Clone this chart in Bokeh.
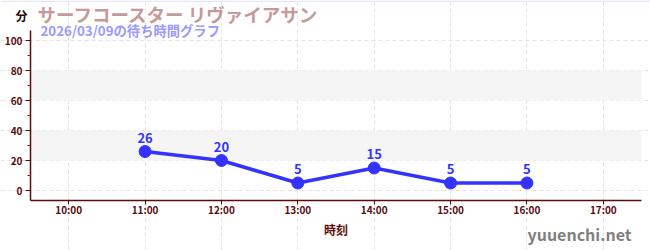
from bokeh.plotting import figure
from bokeh.models import (ColumnDataSource, Label, BoxAnnotation, FixedTicker,
                          LabelSet, Range1d)
from bokeh.core.properties import value
from bokeh.embed import file_html
from bokeh.resources import INLINE

times = ["11:00", "12:00", "13:00", "14:00", "15:00", "16:00"]
waits = [26, 20, 5, 15, 5, 5]
x_ticks = ["10:00", "11:00", "12:00", "13:00", "14:00", "15:00", "16:00", "17:00"]
y_ticks = [0, 20, 40, 60, 80, 100]
bands = [(20, 40), (60, 80)]
title_text = "サーフコースター リヴァイアサン"
subtitle_text = "2026/03/09の待ち時間グラフ"
y_unit = "分"
x_label = "時刻"
watermark = "yuuenchi.net"


def to_hours(s):
    h, m = s.split(":")
    return int(h) + int(m) / 60.0


xs = [to_hours(t) for t in times]
xt = [to_hours(t) for t in x_ticks]

JP = "Noto Sans CJK JP"
AXC = "#5a0c0c"
BLUE = "#3333ff"
W, H = 650, 250

# plotting area inside the canvas (pixels) and its data extent
PL, PR, PT, PB = 30, 641, 30, 200
X0, X1 = 9.5, 17.5
Y0, Y1 = -20 / 3, 320 / 3
xs_per_px = (X1 - X0) / (PR - PL)
ys_per_px = (Y1 - Y0) / (PB - PT)

p = figure(frame_width=W, frame_height=H, output_backend="svg",
           toolbar_location=None, min_border=0,
           x_range=Range1d(X0 - PL * xs_per_px, X1 + (W - PR) * xs_per_px),
           y_range=Range1d(Y0 - (H - PB) * ys_per_px, Y1 + PT * ys_per_px))
p.outline_line_color = None
p.background_fill_color = "white"
p.border_fill_color = "white"

# thin lavender rule along the top edge of the picture
p.add_layout(BoxAnnotation(bottom=H - 1.5, bottom_units="screen",
                           fill_color="#e6e6fa", fill_alpha=1.0, line_color=None))

for lo, hi in bands:
    p.add_layout(BoxAnnotation(bottom=lo, top=hi, left=X0, right=X1,
                               fill_color="#f5f5f5", fill_alpha=1.0,
                               line_color=None, level="underlay"))

xa = p.xaxis[0]
ya = p.yaxis[0]
xa.fixed_location = Y0
ya.fixed_location = X0
xa.bounds = (X0, X1)
ya.bounds = (Y0, Y1)
xa.ticker = FixedTicker(ticks=xt)
xa.major_label_overrides = {v: s for v, s in zip(xt, x_ticks)}
ya.ticker = FixedTicker(ticks=y_ticks, minor_ticks=[v + 10 for v in y_ticks[:-1]])
for ax in (xa, ya):
    ax.axis_line_color = AXC
    ax.axis_line_width = 1.5
    ax.major_tick_line_color = AXC
    ax.major_tick_out = 5
    ax.major_tick_in = 0
    ax.major_label_text_color = AXC
    ax.major_label_text_font = JP
    ax.major_label_text_font_style = "bold"
    ax.major_label_text_font_size = "10px"
xa.major_tick_out = 4
xa.minor_tick_line_color = None
ya.minor_tick_line_color = "#dd0000"
ya.minor_tick_out = 3
ya.minor_tick_in = 0
ya.major_label_standoff = 3
xa.major_label_standoff = -3
xa.axis_label = x_label
xa.axis_label_text_font = JP
xa.axis_label_text_font_style = "bold"
xa.axis_label_text_font_size = "12px"
xa.axis_label_text_color = AXC
xa.axis_label_standoff = 1

p.xgrid.bounds = (Y0, Y1)
p.ygrid.bounds = (X0, X1)
for g in (p.xgrid, p.ygrid):
    g.grid_line_color = "#e4e4e4"
    g.grid_line_dash = "4 3"
    g.grid_line_width = 1

src = ColumnDataSource(dict(x=xs, y=waits, lab=[str(v) for v in waits]))
p.line("x", "y", source=src, line_color=BLUE, line_width=3.5)
p.scatter("x", "y", source=src, size=12, fill_color=BLUE, line_color=BLUE)
p.add_layout(LabelSet(x="x", y="y", text="lab", source=src, y_offset=9,
                      text_align="center", text_baseline="bottom",
                      text_color=BLUE, text_font=value(JP),
                      text_font_style="bold", text_font_size="13px"))

# texts around the plotting area (screen units from canvas bottom-left)
p.add_layout(Label(x=21, y=H - 15, x_units="screen", y_units="screen", text=y_unit,
                   text_align="center", text_baseline="middle", text_color="#2a0505",
                   text_font=JP, text_font_style="bold", text_font_size="12px"))
p.add_layout(Label(x=37, y=H - 13, x_units="screen", y_units="screen", text=title_text,
                   text_align="left", text_baseline="middle", text_color="#c49a9a",
                   text_font=JP, text_font_style="bold", text_font_size="18.5px"))
p.add_layout(Label(x=40, y=H - 30, x_units="screen", y_units="screen", text=subtitle_text,
                   text_align="left", text_baseline="middle", text_color="#9a9aff",
                   text_font=JP, text_font_style="bold", text_font_size="13.3px"))
p.add_layout(Label(x=631, y=H - 233, x_units="screen", y_units="screen", text=watermark,
                   text_align="right", text_baseline="middle", text_color="#808080",
                   text_font=JP, text_font_style="bold", text_font_size="16px"))

open("out.html", "w").write(file_html(p, INLINE))
